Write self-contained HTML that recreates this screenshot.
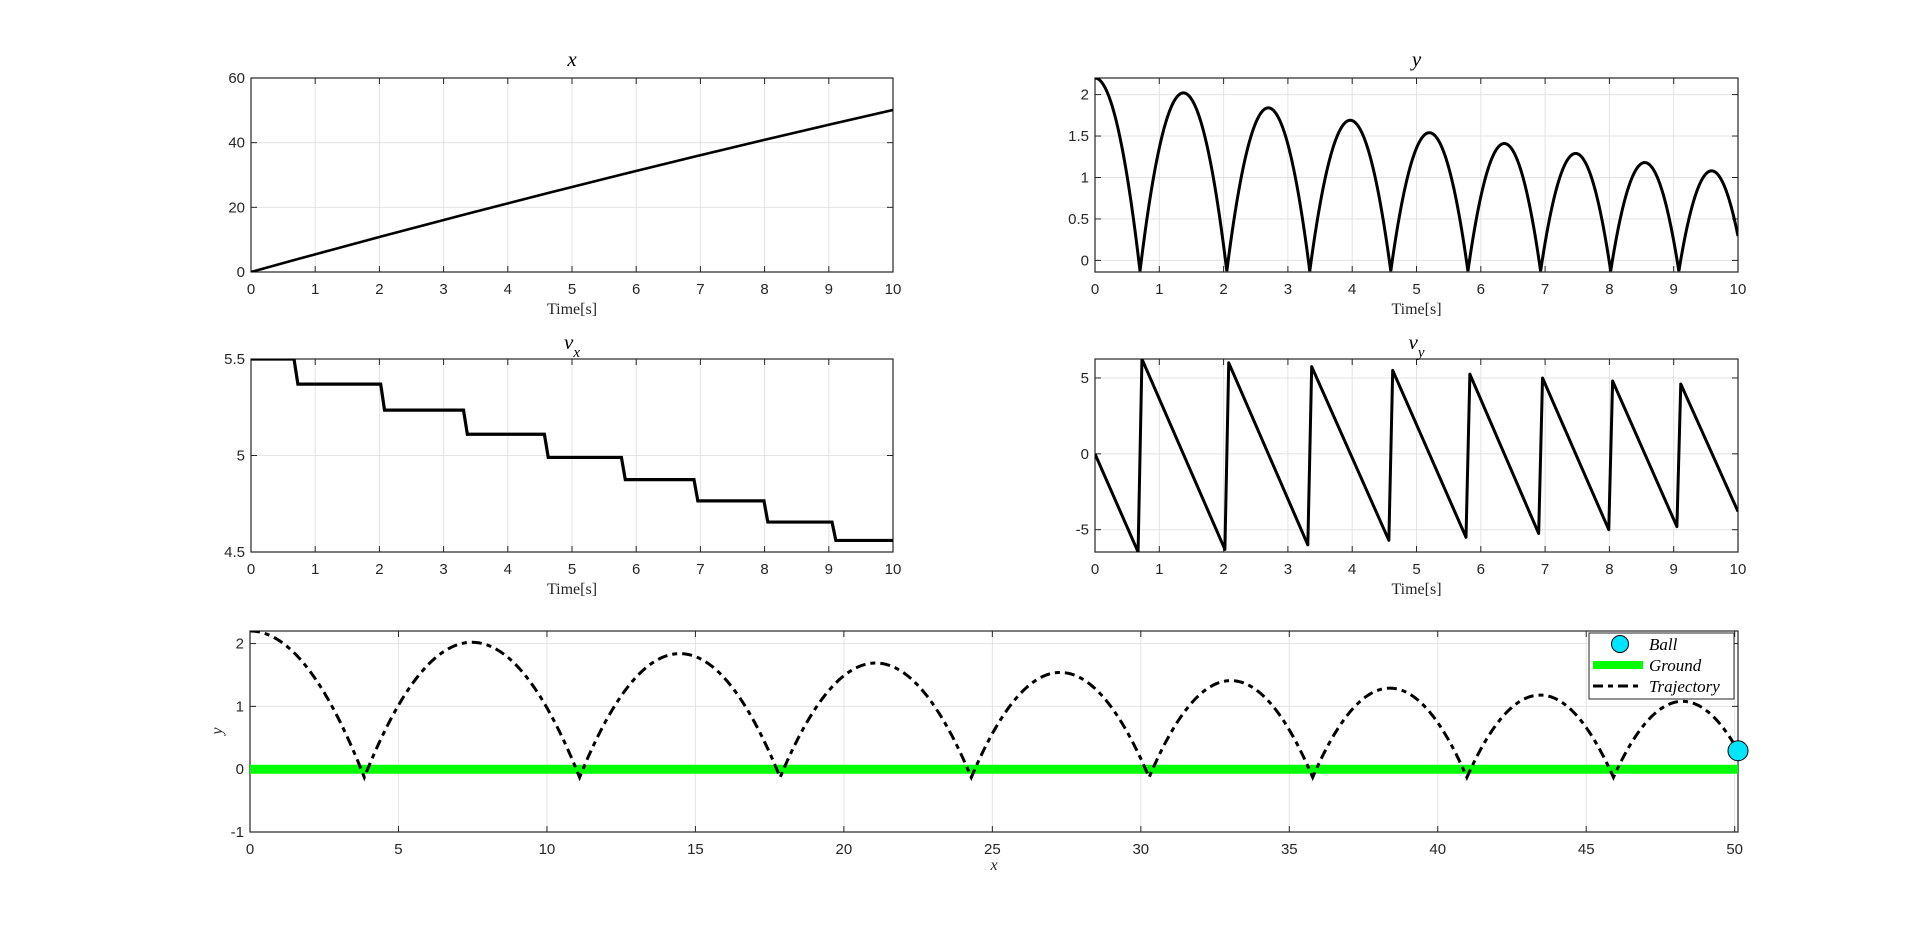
<!DOCTYPE html>
<html><head><meta charset="utf-8"><style>
html,body{margin:0;padding:0;background:#fff;width:1920px;height:936px;overflow:hidden}
svg{display:block}
.tk{font-family:"Liberation Sans",sans-serif;font-size:15px;fill:#262626}
.ttl{font-family:"Liberation Serif",serif;font-style:italic;font-size:21px;fill:#000}
.lbl{font-family:"Liberation Serif",serif;font-size:16px;fill:#262626}
.leg{font-family:"Liberation Serif",serif;font-style:italic;font-size:17px;fill:#000}
</style></head><body>
<svg id="fig" width="1920" height="936" xmlns="http://www.w3.org/2000/svg"></svg>
<script>
// ---- data ----
const bounceT = [0.70, 2.05, 3.34, 4.60, 5.80, 6.93, 8.02, 9.08];
const peakY = [2.20, 2.02, 1.84, 1.69, 1.54, 1.41, 1.29, 1.18, 1.08];
const yMin = -0.13;
const vxLevels = [5.5, 5.37, 5.235, 5.11, 4.99, 4.875, 4.765, 4.655, 4.56];
const vyPeaks = [6.25, 6.0, 5.75, 5.5, 5.25, 5.0, 4.8, 4.6];
const vyPre = [-6.47, -6.3, -6.0, -5.7, -5.5, -5.25, -5.0, -4.8];
const vyEnd = [-3.8];
const tEnd = [10];
const xTicksT = [0,1,2,3,4,5,6,7,8,9,10];
const yTicksX = [0,20,40,60];
const yTicksY = [0,0.5,1,1.5,2];
const yTicksVx = [4.5,5,5.5];
const yTicksVy = [-5,0,5];
const xTicksTraj = [0,5,10,15,20,25,30,35,40,45,50];
const yTicksTraj = [-1,0,1,2];

const NS='http://www.w3.org/2000/svg';
const fig=document.getElementById('fig');
function mk(tag,attrs,parent){const e=document.createElementNS(NS,tag);for(const k in attrs)e.setAttribute(k,attrs[k]);(parent||fig).appendChild(e);return e;}

function makeAxes(name,L,R,T,B,x0,x1,y0,y1,xt,yt,title,xlabel,titleY,xlabY){
  const g=mk('g',{});
  
  
  const sx=v=>L+(v-x0)/(x1-x0)*(R-L), sy=v=>B-(v-y0)/(y1-y0)*(B-T);
  const tl=6;
  xt.forEach(v=>{const x=sx(v);
    const gl=mk('line',{x1:x,x2:x,y1:T,y2:B,stroke:'#e3e3e3','stroke-width':1},g);
    
    mk('line',{x1:x,x2:x,y1:B,y2:B-tl,stroke:'#262626','stroke-width':1},g);
    mk('line',{x1:x,x2:x,y1:T,y2:T+tl,stroke:'#262626','stroke-width':1},g);
    const t=mk('text',{x:x,y:B+22,'text-anchor':'middle',class:'tk'},g);t.textContent=String(v);
    });
  yt.forEach(v=>{const y=sy(v);
    const gl=mk('line',{x1:L,x2:R,y1:y,y2:y,stroke:'#e3e3e3','stroke-width':1},g);
    
    mk('line',{x1:L,x2:L+tl,y1:y,y2:y,stroke:'#262626','stroke-width':1},g);
    mk('line',{x1:R,x2:R-tl,y1:y,y2:y,stroke:'#262626','stroke-width':1},g);
    const t=mk('text',{x:L-6,y:y+5,'text-anchor':'end',class:'tk'},g);t.textContent=String(v);
    });
  const box=mk('rect',{x:L,y:T,width:R-L,height:B-T,fill:'none',stroke:'#262626','stroke-width':1.2},g);
  
  if(title){const t=mk('text',{x:(L+R)/2,y:titleY,'text-anchor':'middle',class:'ttl'},g);t.innerHTML=title;
    }
  if(xlabel){const t=mk('text',{x:(L+R)/2,y:xlabY,'text-anchor':'middle',class:'lbl'},g);t.innerHTML=xlabel;
    }
  const clip='c'+name;const cp=mk('clipPath',{id:clip},g);mk('rect',{x:L,y:T,width:R-L,height:B-T},cp);
  return {g,sx,sy,clip};
}

// ---- derived time series ----
function halfWidths(){const h=[bounceT[0]];
  for(let i=1;i<bounceT.length;i++)h.push((bounceT[i]-bounceT[i-1])/2);
  const last=h[h.length-1]*Math.sqrt((peakY[peakY.length-1]-yMin)/(peakY[peakY.length-2]-yMin));
  h.push(last);return h;}
const H=halfWidths();
function yAt(t){let k=0;while(k<bounceT.length&&t>bounceT[k])k++;
  const start=k===0?null:bounceT[k-1];
  const tm=k===0?0:start+H[k];const p=peakY[k];const h=H[k];
  const u=(t-tm)/h;return yMin+(p-yMin)*(1-u*u);}
function vxAt(t){let k=0;while(k<bounceT.length&&t>bounceT[k])k++;return vxLevels[k];}
const N=2000;const ts=[],xs=[],ys=[];let xacc=0;
for(let i=0;i<=N;i++){const t=tEnd[0]*i/N;if(i>0)xacc+=vxAt(t-tEnd[0]/N/2)*tEnd[0]/N;ts.push(t);xs.push(xacc);ys.push(yAt(t));}

function pathFrom(ax,px,py){return px.map((v,i)=>(i?'L':'M')+ax.sx(v).toFixed(2)+','+ax.sy(py[i]).toFixed(2)).join('');}

// Axes 1: x(t)
const a1=makeAxes('x-position-plot',251,893,78,272,0,10,0,60,xTicksT,yTicksX,'x','Time[s]',66,314);
let p=mk('path',{d:pathFrom(a1,ts,xs),fill:'none',stroke:'#000','stroke-width':2.6,'clip-path':'url(#'+a1.clip+')'},a1.g);


// Axes 2: y(t)
const a2=makeAxes('y-position-plot',1095,1738,78,272,0,10,-0.14,2.2,xTicksT,yTicksY,'y','Time[s]',66,314);
p=mk('path',{d:pathFrom(a2,ts,ys),fill:'none',stroke:'#000','stroke-width':3,'clip-path':'url(#'+a2.clip+')'},a2.g);


// Axes 3: vx(t)
const a3=makeAxes('vx-plot',251,893,359,552,0,10,4.5,5.5,xTicksT,yTicksVx,'v<tspan baseline-shift="sub" font-size="15">x</tspan>','Time[s]',349,594);
const vxT=[0],vxV=[vxLevels[0]];
bounceT.forEach((b,i)=>{vxT.push(b-0.03);vxV.push(vxLevels[i]);vxT.push(b+0.03);vxV.push(vxLevels[i+1]);});
vxT.push(tEnd[0]);vxV.push(vxLevels[vxLevels.length-1]);
p=mk('path',{d:pathFrom(a3,vxT,vxV),fill:'none',stroke:'#000','stroke-width':3.2,'clip-path':'url(#'+a3.clip+')'},a3.g);


// Axes 4: vy(t)
const a4=makeAxes('vy-plot',1095,1738,359,552,0,10,-6.47,6.25,xTicksT,yTicksVy,'v<tspan baseline-shift="sub" font-size="15">y</tspan>','Time[s]',349,594);
const vyT=[0],vyV=[0];
bounceT.forEach((b,i)=>{vyT.push(b-0.03);vyV.push(vyPre[i]);vyT.push(b+0.03);vyV.push(vyPeaks[i]);});
vyT.push(tEnd[0]);vyV.push(vyEnd[0]);
p=mk('path',{d:pathFrom(a4,vyT,vyV),fill:'none',stroke:'#000','stroke-width':3,'stroke-linejoin':'round','clip-path':'url(#'+a4.clip+')'},a4.g);


// Axes 5: trajectory
const xMax=xs[xs.length-1];
const a5=makeAxes('trajectory-plot',250,1738,631,832,0,xMax,-1,2.2,xTicksTraj,yTicksTraj,null,'<tspan font-style="italic">x</tspan>',0,870);
let yl=mk('text',{x:222,y:731,'text-anchor':'middle',class:'lbl','font-style':'italic',transform:'rotate(-90 222 731)'},a5.g);yl.textContent='y';

const gr=mk('line',{x1:a5.sx(0),x2:a5.sx(xMax),y1:a5.sy(0),y2:a5.sy(0),stroke:'#00ff00','stroke-width':9},a5.g);

p=mk('path',{d:pathFrom(a5,xs,ys),fill:'none',stroke:'#000','stroke-width':3,'stroke-dasharray':'10,5,5,5','clip-path':'url(#'+a5.clip+')'},a5.g);

const ball=mk('circle',{cx:a5.sx(xs[xs.length-1]),cy:a5.sy(ys[ys.length-1]),r:10,fill:'#00e5ff',stroke:'#000','stroke-width':1},a5.g);


// Legend
const lg=mk('g',{});

mk('rect',{x:1589,y:633,width:145,height:66,fill:'#fff',stroke:'#262626','stroke-width':1},lg);
let e=mk('circle',{cx:1620,cy:644,r:8.5,fill:'#00e5ff',stroke:'#000','stroke-width':1},lg);

mk('line',{x1:1593,x2:1643,y1:665,y2:665,stroke:'#00ff00','stroke-width':8},lg);
mk('line',{x1:1593,x2:1643,y1:686,y2:686,stroke:'#000','stroke-width':3,'stroke-dasharray':'10,5,5,5'},lg);
let t=mk('text',{x:1649,y:650,class:'leg'},lg);t.textContent='Ball';

t=mk('text',{x:1649,y:671,class:'leg'},lg);t.textContent='Ground';

t=mk('text',{x:1649,y:692,class:'leg'},lg);t.textContent='Trajectory';

</script>
</body></html>
